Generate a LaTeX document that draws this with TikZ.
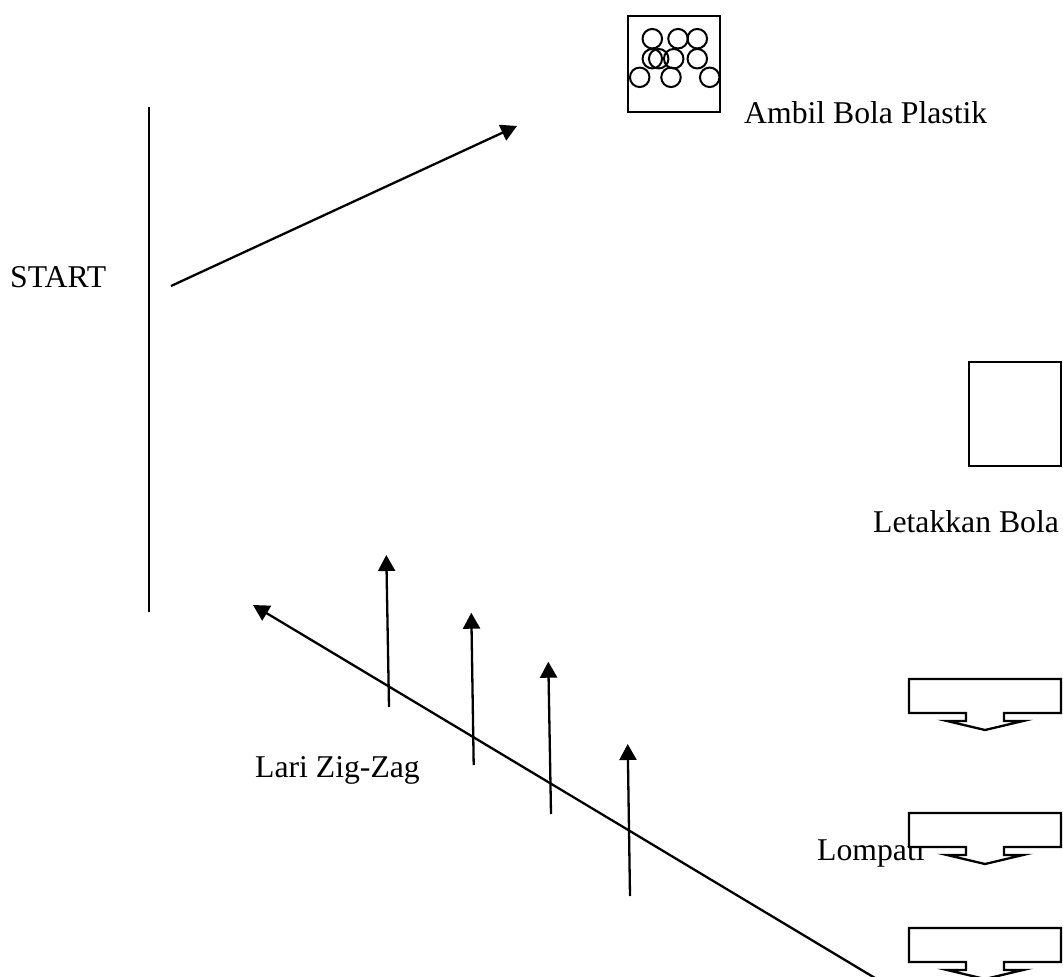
\documentclass[tikz,border=0pt]{standalone}
\usepackage{fontspec}
\setmainfont{Liberation Serif}
\usetikzlibrary{arrows.meta}
\tikzset{
  ln/.style={line width=2.3pt,draw=black},
  arr/.style={ln,-{Triangle[length=16pt,width=17pt]}},
  lbl/.style={anchor=base west,inner sep=0pt,font=\fontsize{31.7}{36}\selectfont},
  ball/.style={circle,draw=black,line width=2pt,minimum size=19.5pt,inner sep=0pt},
  jump/.pic={\draw[ln,fill=white,line join=miter]
    (0,0)--(152,0)--(152,34)--(95,34)--(95,42)--(114,42)--(76,51)--(38,42)--(57,42)--(57,34)--(0,34)--cycle;}
}
\begin{document}
\begin{tikzpicture}[x=1pt,y=-1pt]
\useasboundingbox (0,0) rectangle (1063,977);
\clip (0,0) rectangle (1063,977);
% labels
\node[lbl] (tstart) at (10,287) {START};
\node[lbl] (tambil) at (744,123) {Ambil Bola Plastik};
\node[lbl] (tletak) at (873,532.7) {Letakkan Bola};
\node[lbl] (tlari) at (255,777) {Lari Zig-Zag};
\node[lbl] (tlompat) at (817,860) {Lompati};
% start line
\coordinate (s1) at (149,107);
\coordinate (s2) at (149,612);
\draw[ln] (s1)--(s2);
% first arrow
\coordinate (a1) at (171,286);
\coordinate (a2) at (517,126);
\draw[arr] (a1)--(a2);
% box with balls
\node[draw=black,line width=2pt,minimum width=92pt,minimum height=96pt,inner sep=0pt] (box1) at (673.5,64) {};
\foreach \n/\x/\y in {b1/652.3/38.7,b2/678/38.7,b3/697.3/38.7,b4/652.3/58.7,b5/658.7/58.7,b6/673.7/58.7,b7/697.3/58.7,b8/639.7/77.3,b9/671/77.3,b10/709.7/77.3}
  \node[ball] (\n) at (\x,\y) {};
% second box
\node[draw=black,line width=2pt,minimum width=92pt,minimum height=104pt,inner sep=0pt] (box2) at (1015,414) {};
% jump blocks
\pic at (909,679) {jump};
\pic at (909,813) {jump};
\pic at (909,928) {jump};
% long arrow
\coordinate (l1) at (880,981);
\coordinate (l2) at (253,605);
\draw[arr] (l1)--(l2);
% zigzag arrows
\coordinate (z1a) at (389,707); \coordinate (z1b) at (386.3,555);
\coordinate (z2a) at (473.7,765); \coordinate (z2b) at (471.3,612.7);
\coordinate (z3a) at (551,814); \coordinate (z3b) at (548.3,661.7);
\coordinate (z4a) at (630,896); \coordinate (z4b) at (627.7,744);
\draw[arr] (z1a)--(z1b);
\draw[arr] (z2a)--(z2b);
\draw[arr] (z3a)--(z3b);
\draw[arr] (z4a)--(z4b);
\end{tikzpicture}
\end{document}
